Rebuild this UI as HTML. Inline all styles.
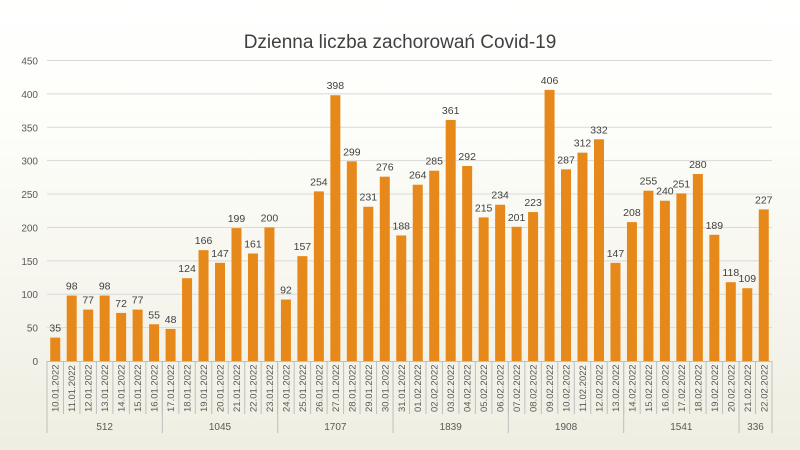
<!DOCTYPE html>
<html><head><meta charset="utf-8"><style>
body{margin:0;width:800px;height:450px;overflow:hidden;font-family:"Liberation Sans",sans-serif;}
#bg{position:absolute;left:0;top:0;width:800px;height:450px;background:linear-gradient(#ffffff 0%,#fdfdf9 30%,#efeee2 100%);}
svg{position:absolute;left:0;top:0;}
</style></head><body>
<div id="bg"></div>
<svg id="c" width="800" height="450">
<text x="400" y="48" text-anchor="middle" font-size="19" fill="#404040">Dzienna liczba zachorowań Covid-19</text>
</svg>
<script>
const dates=["10.01.2022","11.01.2022","12.01.2022","13.01.2022","14.01.2022","15.01.2022","16.01.2022","17.01.2022","18.01.2022","19.01.2022","20.01.2022","21.01.2022","22.01.2022","23.01.2022","24.01.2022","25.01.2022","26.01.2022","27.01.2022","28.01.2022","29.01.2022","30.01.2022","31.01.2022","01.02.2022","02.02.2022","03.02.2022","04.02.2022","05.02.2022","06.02.2022","07.02.2022","08.02.2022","09.02.2022","10.02.2022","11.02.2022","12.02.2022","13.02.2022","14.02.2022","15.02.2022","16.02.2022","17.02.2022","18.02.2022","19.02.2022","20.02.2022","21.02.2022","22.02.2022"];
const values=[35,98,77,98,72,77,55,48,124,166,147,199,161,200,92,157,254,398,299,231,276,188,264,285,361,292,215,234,201,223,406,287,312,332,147,208,255,240,251,280,189,118,109,227];
const groupLabels=["512","1045","1707","1839","1908","1541","336"];
const groupSizes=[7,7,7,7,7,7,2];
const yTicks=[0,50,100,150,200,250,300,350,400,450];
const NS="http://www.w3.org/2000/svg";
const svg=document.getElementById('c');
const X0=47,X1=772,Y0=361,Y1=60.5,YMAX=450;
const cw=(X1-X0)/values.length;
const y=v=>Y0-(v/YMAX)*(Y0-Y1);
const xc=i=>X0+cw*(i+0.5);
function mk(t,a){const e=document.createElementNS(NS,t);for(const k in a)e.setAttribute(k,a[k]);svg.appendChild(e);return e;}
yTicks.forEach(t=>{
 if(t>0){const g=mk('line',{x1:X0,x2:X1,y1:y(t),y2:y(t),stroke:'#d9d9d9','stroke-width':1});
 
 }
 const l=mk('text',{x:38,y:y(t)+4,'text-anchor':'end','font-size':10,fill:'#595959'});l.textContent=t;
 
 
});
values.forEach((v,i)=>{
 const b=mk('rect',{x:xc(i)-5,y:y(v),width:10,height:Y0-y(v),fill:'#e6891a'});
 
 
 const l=mk('text',{x:xc(i),y:y(v)-6,'text-anchor':'middle','font-size':10.5,fill:'#404040'});l.textContent=v;
 
 
 const d=mk('text',{transform:`translate(${xc(i)+3.5},412) rotate(-90)`,'font-size':9.5,fill:'#595959'});d.textContent=dates[i];
 
 
});
const ax=mk('line',{x1:X0,x2:X1,y1:Y0+0.5,y2:Y0+0.5,stroke:'#bfbfbf','stroke-width':1});


for(let i=1;i<values.length;i++){
 const t=mk('line',{x1:X0+cw*i,x2:X0+cw*i,y1:Y0,y2:414,stroke:'#bfbfbf','stroke-width':1});
 
 
}
let s=0;
const sep=k=>{const l=mk('line',{x1:X0+cw*k,x2:X0+cw*k,y1:Y0,y2:433,stroke:'#bfbfbf','stroke-width':1});
 
 };
sep(0);
groupSizes.forEach((n,g)=>{
 const l=mk('text',{x:X0+cw*(s+n/2),y:430,'text-anchor':'middle','font-size':10,fill:'#595959'});l.textContent=groupLabels[g];
 
 
 s+=n;sep(s);
});
</script>
</body></html>
